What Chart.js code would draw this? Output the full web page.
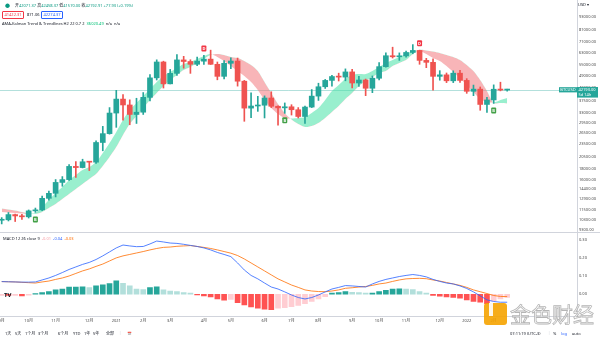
<!DOCTYPE html>
<html><head><meta charset="utf-8">
<script src="https://cdn.jsdelivr.net/npm/chart.js@4.4.1/dist/chart.umd.min.js"></script>
<style>
html,body{margin:0;padding:0;background:#fff;width:600px;height:338px;overflow:hidden;font-family:"Noto Sans","Noto Sans CJK SC",sans-serif;}
canvas{position:absolute;left:0;}
#main{top:0;}
#macd{top:232px;}
.t{position:absolute;white-space:nowrap;font-size:4px;line-height:5px;color:#131722;}
.g{color:#089981;}
.bx{position:absolute;white-space:nowrap;font-size:4px;line-height:4px;padding:0.8px 1.5px;border:0.6px solid;border-radius:1px;}
#sep{position:absolute;left:0;top:232px;width:600px;height:1px;background:#d1d4dc;}
</style></head><body>
<canvas id="main" width="600" height="232"></canvas>
<canvas id="macd" width="600" height="106"></canvas>
<div id="sep"></div>

<div class="t g" style="left:5px;top:2.5px;font-size:5px;">●</div>
<div class="t" style="left:15px;top:2.5px;">开<span class="g">42071.37</span> 高<span class="g">42458.37</span> 低<span class="g">41570.00</span> 收<span class="g">42192.91 +77.93 (+0.19%)</span></div>
<div class="bx" style="left:2px;top:11px;color:#f23645;border-color:#f23645;">41422.31</div>
<div class="t" style="left:27px;top:11.5px;">871.06</div>
<div class="bx" style="left:41px;top:11px;color:#2962ff;border-color:#2962ff;">42274.37</div>
<div class="t" style="left:2px;top:21px;">AMA-Kalman Trend &amp; Trendlines H2 22 0.7 2 &nbsp;<span style="color:#00c176">36020.49</span> &nbsp;n/a &nbsp;n/a</div>
<div class="t" style="left:578px;top:2px;">USD ▾</div>

<div class="t" style="left:3px;top:235.5px;">MACD 12 26 close 9 &nbsp;<span style="color:#f7a1a8">-0.01</span> &nbsp;<span style="color:#2962ff">-0.04</span> &nbsp;<span style="color:#ff6d00">-0.03</span></div>
<div class="t" style="left:4px;top:292px;font-size:6px;line-height:6px;font-weight:bold;color:#131722;">TV</div>

<div class="t" style="left:5px;top:330.5px;">1天</div>
<div class="t" style="left:15px;top:330.5px;">5天</div>
<div class="t" style="left:25px;top:330.5px;">1个月</div>
<div class="t" style="left:38px;top:330.5px;">3个月</div>
<div class="t" style="left:58px;top:330.5px;">6个月</div>
<div class="t" style="left:73px;top:330.5px;">YTD</div>
<div class="t" style="left:84px;top:330.5px;">1年</div>
<div class="t" style="left:93px;top:330.5px;">5年</div>
<div class="t" style="left:106px;top:330.5px;">全部</div>
<div class="t" style="left:119px;top:330px;color:#d1d4dc;">|</div>
<div class="t" style="left:127px;top:330.5px;">📅</div>
<div class="t" style="left:510px;top:330.5px;">07:11:19 (UTC-3)</div>
<div class="t" style="left:548px;top:330px;color:#d1d4dc;">|</div>
<div class="t" style="left:553px;top:330.5px;">%</div>
<div class="t" style="left:561px;top:330.5px;color:#2962ff;">log</div>
<div class="t" style="left:572px;top:330.5px;">auto</div>

<div style="position:absolute;left:484px;top:303px;width:23px;height:22px;background:#f5a300;border-radius:3px;opacity:0.9;"></div>
<div style="position:absolute;left:489px;top:303px;width:4px;height:13px;background:#fff;opacity:0.9;"></div>
<div style="position:absolute;left:510px;top:302px;font-family:'Noto Sans CJK SC';font-size:21px;line-height:22px;color:rgba(255,255,255,0.55);-webkit-text-stroke:0.8px #b5b5b5;">金色财经</div>

<script>
// ---- Data (weekly BTCUSD, bar 0 = week of 2020-09-07) ----
const opens  = [10280,10330,10930,10770,10670,11380,11500,13030,13760,15480,15960,18410,18180,19360,19270,23850,26250,32800,38150,35800,32300,33100,38880,48000,57000,45000,50400,58300,57300,55600,57500,58800,55600,48800,56200,57600,46300,34600,35400,35700,38600,35300,34700,35100,34000,31600,35000,39400,43600,46700,48700,48400,51200,45400,46900,42900,47800,54200,61000,60300,60900,63200,64600,58000,56800,48800,49600,46500,50500,46700,41500,42500,36000,37800,42450,42071];
const highs  = [10580,11180,10990,10950,11490,11730,13350,14090,15970,16490,18800,19420,19900,19420,24300,28400,34800,41950,40100,37850,38500,40950,49700,58350,57500,52600,61800,60600,58400,60100,61200,64800,57000,57900,59600,59500,46700,40800,39300,39500,41300,35500,36600,35900,34800,35400,42300,45300,47200,49400,50500,52900,52600,48800,47400,49000,56600,62900,66900,62900,64200,68800,64800,59300,59000,51900,50600,51800,52100,47600,44400,43500,38900,44500,45800,42458];
const lows   = [9880,10200,10140,10370,10530,11190,11400,12770,13230,14850,15800,16330,18110,17600,19000,21800,26100,28100,30400,28900,29300,32300,37400,46900,43000,44950,49300,53300,50400,54800,55500,55500,47000,47500,53000,43900,30000,31200,33400,31100,34800,28800,32700,32100,31100,29300,34800,37600,42800,43900,46400,46500,43000,43700,39600,40900,46900,53900,59500,58000,60100,62300,55600,53600,42000,46800,45600,45600,45700,40600,39600,33800,33000,36400,41700,41570];
const closes = [10330,10930,10770,10670,11380,11500,13030,13760,15480,15960,18410,18180,19360,19270,23850,26250,32800,38150,35800,32300,33100,38880,48000,57000,45000,50400,58300,57300,55600,57500,58800,55600,48800,56200,57600,46300,34600,35400,35700,38600,35300,34700,35100,34000,31600,35000,39400,43600,46700,48700,48400,51200,45400,46900,42900,47800,54200,61000,60300,60900,63200,64600,58000,56800,48800,49600,46500,50500,46700,41500,42500,36000,37800,42450,42070,42193];

const ribbonFast = [11245,11183,11123,11062,11003,11123,11868,12803,13810,14734,15896,16782,17712,18297,19314,21289,23723,26725,30430,33907,36576,39452,42557,45910,48988,51156,53416,55782,57000,58885,60826,62156,60170,57622,54587,51711,48988,45910,42100,37781,34648,32472,31095,30927,31095,31432,32825,34648,37781,41647,44441,47421,49522,50061,50061,51711,53999,56389,58250,60170,62156,64210,64210,62156,59521,57622,54587,51156,47939,44441,41199,38193,36972,36774,37781,38610];
const ribbonSlow = [11675,11551,11427,11245,11086,11003,11245,11740,12261,12943,13661,14420,15222,16071,16962,18495,20388,22717,25871,29138,31773,34648,37781,40753,43961,46912,49522,52275,53999,56389,58885,61487,62156,61487,60170,59521,57622,55180,51711,45910,40753,36181,32825,30594,29138,28211,28514,29457,31095,33179,35406,38193,40753,43961,46407,48461,50604,51711,54587,56389,58250,62156,64911,64557,63864,62830,61487,60170,58250,55180,51711,46912,41647,36576,36576,36378];

const macdLine   = [0.070,0.069,0.068,0.067,0.067,0.068,0.079,0.090,0.104,0.120,0.137,0.151,0.165,0.176,0.192,0.212,0.234,0.256,0.272,0.267,0.263,0.264,0.278,0.294,0.289,0.283,0.281,0.276,0.270,0.264,0.256,0.245,0.231,0.220,0.208,0.173,0.134,0.104,0.085,0.062,0.040,0.029,0.013,-0.004,-0.018,-0.026,-0.018,-0.004,0.013,0.029,0.038,0.048,0.046,0.043,0.040,0.057,0.071,0.082,0.090,0.098,0.104,0.109,0.104,0.096,0.082,0.071,0.062,0.057,0.046,0.032,0.013,-0.009,-0.031,-0.040,-0.044,-0.044];
const signalLine = [0.070,0.069,0.068,0.066,0.064,0.062,0.068,0.073,0.082,0.090,0.101,0.115,0.129,0.140,0.154,0.167,0.184,0.201,0.212,0.220,0.228,0.236,0.245,0.253,0.259,0.261,0.265,0.267,0.269,0.264,0.259,0.253,0.245,0.236,0.227,0.214,0.195,0.173,0.151,0.129,0.107,0.085,0.068,0.051,0.038,0.024,0.018,0.015,0.014,0.018,0.024,0.033,0.036,0.040,0.043,0.049,0.057,0.062,0.071,0.079,0.085,0.087,0.088,0.086,0.079,0.073,0.065,0.057,0.049,0.038,0.024,0.014,0.004,-0.007,-0.012,-0.013];
const histogram  = [-0.006,-0.007,-0.007,-0.009,-0.005,0.004,0.009,0.015,0.024,0.029,0.039,0.039,0.041,0.037,0.046,0.052,0.059,0.074,0.061,0.046,0.029,0.026,0.037,0.041,0.024,0.018,0.015,0.009,0.006,-0.004,-0.009,-0.015,-0.026,-0.033,-0.029,-0.046,-0.059,-0.070,-0.077,-0.083,-0.085,-0.077,-0.074,-0.068,-0.061,-0.052,-0.039,-0.026,-0.013,0.006,0.009,0.015,0.011,0.009,0.006,0.007,0.015,0.022,0.029,0.030,0.029,0.026,0.015,0.006,-0.006,-0.011,-0.015,-0.018,-0.022,-0.031,-0.039,-0.044,-0.052,-0.037,-0.026,-0.018];

const monthBars   = [0,4,8,13,17,21,25,30,34,39,43,47,52,56,60,65,69,73];
const monthLabels = ['9月','10月','11月','12月','2021','2月','3月','4月','5月','6月','7月','8月','9月','10月','11月','12月','2022','2月'];
const priceTicks  = [9300,10300,11500,12900,14400,16000,18000,20500,23500,26500,29500,33000,37500,43000,49000,55000,63000,71000,81000,93000];
const macdTicks   = [0,0.1,0.2,0.3];
const buyBars  = [5,42,73];
const sellBars = [30,62];

// ---- Styling ----
const FONT = '"Noto Sans","Noto Sans CJK SC",sans-serif';
const UP = '#26a69a', DN = '#ef5350';
const RIB_UP = 'rgba(70,225,165,0.55)', RIB_DN = 'rgba(242,120,125,0.55)';
const X_MIN = -0.252, X_MAX = 85.36;
const AXIS_W = 23;

const idx = closes.map((_, i) => i);
const candleColor = idx.map(i => closes[i] >= opens[i] ? UP : DN);

const yAxisFit = s => { s.width = AXIS_W; s.paddingTop = 0; s.paddingBottom = 0; };

function tag(ctx, cx, cy, letter, fill) {
  const w = 5, h = 6;
  ctx.fillStyle = fill;
  ctx.beginPath();
  ctx.roundRect(cx - w / 2, cy - h / 2, w, h, 1);
  ctx.fill();
  ctx.fillStyle = '#fff';
  ctx.font = 'bold 4px ' + FONT;
  ctx.textAlign = 'center';
  ctx.textBaseline = 'middle';
  ctx.fillText(letter, cx, cy + 0.3);
}

const mainOverlay = {
  id: 'mainOverlay',
  beforeDatasetsDraw(chart) {
    const {ctx, scales: {y}, chartArea} = chart;
    const py = Math.round(y.getPixelForValue(closes[closes.length - 1])) + 0.5;
    ctx.save();
    ctx.strokeStyle = 'rgba(38,166,154,0.35)';
    ctx.lineWidth = 1;
    ctx.beginPath(); ctx.moveTo(chartArea.left, py); ctx.lineTo(chartArea.right, py); ctx.stroke();
    ctx.restore();
  },
  afterDraw(chart) {
    const {ctx, scales: {x, y}, chartArea} = chart;
    ctx.save();
    buyBars.forEach(i => tag(ctx, x.getPixelForValue(i), y.getPixelForValue(lows[i]) + 7, 'B', '#43a047'));
    sellBars.forEach(i => tag(ctx, x.getPixelForValue(i), y.getPixelForValue(highs[i]) - 7, 'D', '#f23645'));
    const last = closes[closes.length - 1];
    const py = y.getPixelForValue(last);
    ctx.fillStyle = UP;
    ctx.fillRect(chartArea.right - 18, py - 2.6, 18, 5.2);
    ctx.fillRect(chartArea.right, py - 2.8, 21, 10.6);
    ctx.fillStyle = '#fff';
    ctx.font = '4px ' + FONT;
    ctx.textBaseline = 'middle';
    ctx.textAlign = 'center';
    ctx.fillText('BTCUSD', chartArea.right - 9, py);
    ctx.textAlign = 'left';
    ctx.fillText(last.toFixed(2), chartArea.right + 1.5, py);
    ctx.fillText('5d 14h', chartArea.right + 1.5, py + 5);
    ctx.restore();
  }
};

new Chart(document.getElementById('main'), {
  type: 'bar',
  data: {
    datasets: [
      {type: 'bar', data: idx.map(i => ({x: i, y: [opens[i], closes[i]]})), backgroundColor: candleColor,
       barThickness: 5, grouped: false, minBarLength: 1, order: 0},
      {type: 'bar', data: idx.map(i => ({x: i, y: [lows[i], highs[i]]})), backgroundColor: candleColor,
       barThickness: 1, grouped: false, order: 1},
      {type: 'line', data: idx.map(i => ({x: i, y: ribbonFast[i]})), borderColor: 'transparent', borderWidth: 0,
       pointRadius: 0, tension: 0.3, fill: {target: 3, above: RIB_UP, below: RIB_DN}, order: 5},
      {type: 'line', data: idx.map(i => ({x: i, y: ribbonSlow[i]})), borderColor: 'transparent', borderWidth: 0,
       pointRadius: 0, tension: 0.3, fill: false, order: 6}
    ]
  },
  options: {
    responsive: false, animation: false, devicePixelRatio: 1,
    layout: {padding: 0},
    plugins: {legend: {display: false}, tooltip: {enabled: false}},
    scales: {
      x: {type: 'linear', display: false, min: X_MIN, max: X_MAX, bounds: 'data', offset: false},
      y: {type: 'logarithmic', position: 'right', min: 9052, max: 111500, bounds: 'data',
          grid: {display: false, drawTicks: false}, border: {display: true, color: '#d1d4dc'},
          afterBuildTicks: s => { s.ticks = priceTicks.map(v => ({value: v})); },
          ticks: {autoSkip: false, padding: 2, color: '#4a4a4a', font: {size: 4, family: FONT},
                  callback: v => Number(v).toFixed(2)},
          afterFit: yAxisFit}
    }
  },
  plugins: [mainOverlay]
});

const histColors = histogram.map((v, i) => {
  const p = i > 0 ? histogram[i - 1] : v;
  return v >= 0 ? (v >= p ? '#26a69a' : '#b2dfdb') : (v < p ? '#ff5252' : '#ffcdd2');
});

new Chart(document.getElementById('macd'), {
  type: 'bar',
  data: {
    datasets: [
      {type: 'line', data: idx.map(i => ({x: i, y: macdLine[i]})), borderColor: '#2962ff', borderWidth: 0.8,
       pointRadius: 0, fill: false, order: 0},
      {type: 'line', data: idx.map(i => ({x: i, y: signalLine[i]})), borderColor: '#ff6d00', borderWidth: 0.8,
       pointRadius: 0, fill: false, order: 1},
      {type: 'bar', data: idx.map(i => ({x: i, y: histogram[i]})), backgroundColor: histColors,
       barThickness: 5, order: 2}
    ]
  },
  options: {
    responsive: false, animation: false, devicePixelRatio: 1,
    layout: {padding: 0},
    plugins: {legend: {display: false}, tooltip: {enabled: false}},
    scales: {
      x: {type: 'linear', min: X_MIN, max: X_MAX, bounds: 'data', offset: false,
          grid: {display: false, drawTicks: false}, border: {display: true, color: '#d1d4dc'},
          afterBuildTicks: s => { s.ticks = monthBars.map(v => ({value: v})); },
          ticks: {autoSkip: false, maxRotation: 0, padding: 2, color: '#4a4a4a', font: {size: 4, family: FONT},
                  callback: v => monthLabels[monthBars.indexOf(v)]},
          afterFit: s => { s.height = 21.3; s.paddingLeft = 0; s.paddingRight = 0; }},
      y: {type: 'linear', position: 'right', min: -0.124, max: 0.344, bounds: 'data',
          grid: {display: false, drawTicks: false}, border: {display: true, color: '#d1d4dc'},
          afterBuildTicks: s => { s.ticks = macdTicks.map(v => ({value: v})); },
          ticks: {autoSkip: false, padding: 2, color: '#4a4a4a', font: {size: 4, family: FONT},
                  callback: v => Number(v).toFixed(2)},
          afterFit: yAxisFit}
    }
  }
});
</script>
</body></html>
